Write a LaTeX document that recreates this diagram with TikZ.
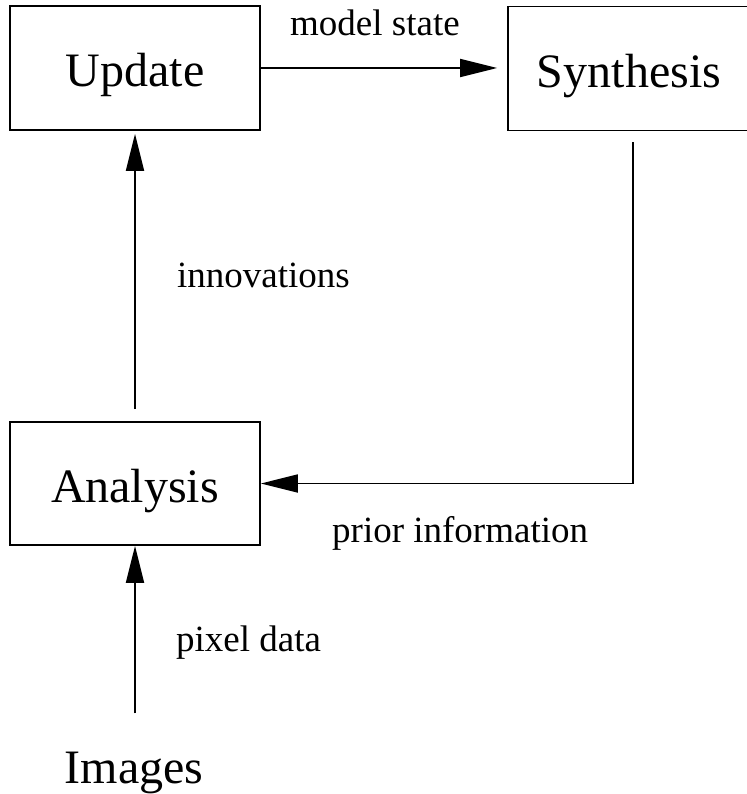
\documentclass[tikz,border=0pt]{standalone}
\usepackage{fontspec}
\setmainfont{Liberation Serif}
\usetikzlibrary{arrows.meta}
\begin{document}
\begin{tikzpicture}[x=1pt,y=-1pt,
  box/.style={draw, line width=1.8pt, rectangle, inner sep=0pt,
    minimum height=124pt, text height=38pt, text depth=0pt,
    font=\fontsize{48}{56}\selectfont},
  bigtext/.style={inner sep=0pt, font=\fontsize{48}{56}\selectfont},
  lbl/.style={anchor=base west, inner sep=0pt, font=\fontsize{37}{44}\selectfont},
  arr/.style={line width=1.8pt, -{Triangle[length=37pt,width=18pt]}}]
\useasboundingbox (0,0) rectangle (746,794);

% processing blocks
\node[box, minimum width=250pt] (upd) at (135,68) {Update};
\node[box, minimum width=242pt] (syn) at (629,68.5) {Synthesis};
\node[box, minimum width=250pt, minimum height=123pt] (ana) at (135,483.5) {Analysis};
\node[bigtext, anchor=base] (img) at (134,783) {Images};

% data flow
\draw[arr] (upd.east) -- ([xshift=-10pt]syn.west |- upd.east);
\draw[arr] ([yshift=12pt]ana.north) -- ([yshift=-3pt]upd.south);
\draw[arr] ([xshift=4pt,yshift=-11pt]syn.south) |- (ana.east);
\draw[arr] ([yshift=38pt]ana.south |- img.north) -- (ana.south);

% flow labels
\node[lbl] (lmodel) at (290,36) {model state};
\node[lbl] (linnov) at (177,287) {innovations};
\node[lbl] (lprior) at (332,542) {prior information};
\node[lbl] (lpixel) at (176,651) {pixel data};
\end{tikzpicture}
\end{document}
